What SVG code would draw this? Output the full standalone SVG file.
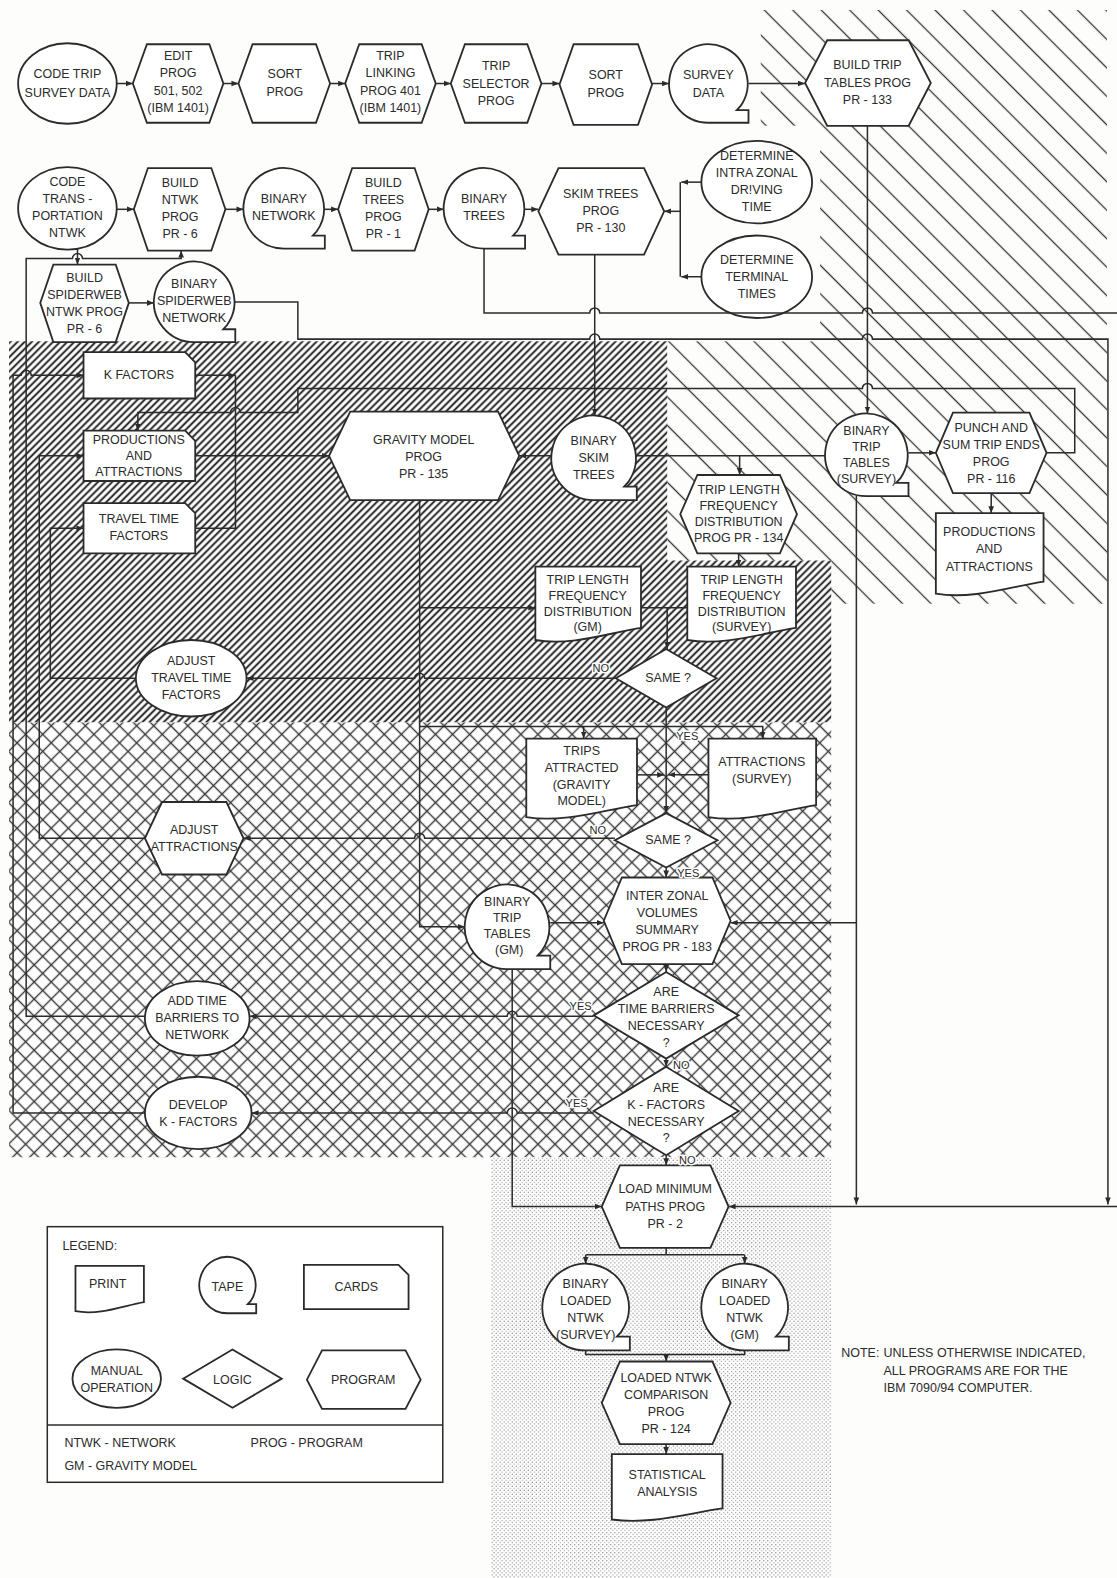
<svg xmlns="http://www.w3.org/2000/svg" width="1117" height="1578" viewBox="0 0 1117 1578">
<defs>
<style>
.n{fill:#fff;stroke:#2b2b2b;stroke-width:1.8}
.c{fill:none;stroke:#2b2b2b;stroke-width:1.5}
.a{marker-end:url(#ah)}
text{font-family:"Liberation Sans",Arial,sans-serif;font-size:12.4px;fill:#2b2b2b;text-anchor:middle;dominant-baseline:central}
.lbl{font-size:11px;stroke:#fff;stroke-width:3;paint-order:stroke;stroke-linejoin:round}
.st{text-anchor:start}
</style>
<marker id="ah" viewBox="0 0 10 10" refX="10" refY="5" markerWidth="7" markerHeight="7" markerUnits="userSpaceOnUse" orient="auto"><path d="M0,1 L10,5 L0,9 z" fill="#2b2b2b"/></marker>
<pattern id="dense" width="5" height="5" patternUnits="userSpaceOnUse" patternTransform="rotate(-45)"><rect width="5" height="5" fill="#fff"/><line x1="0" y1="2.5" x2="5" y2="2.5" stroke="#333" stroke-width="2.1"/></pattern>
<pattern id="sparse" width="20" height="20" patternUnits="userSpaceOnUse" patternTransform="rotate(45)"><line x1="0" y1="10" x2="20" y2="10" stroke="#333" stroke-width="1.3"/></pattern>
<pattern id="cross" width="12" height="12" patternUnits="userSpaceOnUse" patternTransform="rotate(45)"><rect width="12" height="12" fill="#fff"/><line x1="0" y1="6" x2="12" y2="6" stroke="#3a3a3a" stroke-width="1.4"/><line x1="6" y1="0" x2="6" y2="12" stroke="#3a3a3a" stroke-width="1.4"/></pattern>
<pattern id="dots" width="4" height="4" patternUnits="userSpaceOnUse"><rect width="4" height="4" fill="#fff"/><circle cx="1" cy="1" r="0.6" fill="#777"/><circle cx="3" cy="3" r="0.6" fill="#777"/></pattern>
</defs>
<rect width="1117" height="1578" fill="#fdfdfc"/>
<g transform="scale(1.0063)">
<g id="regions">
<path d="M756,10 H1100 V600 H826 V557 H663 V339 H815 V125 H756 Z" fill="url(#sparse)"/>
<path d="M9,339 H663 V557 H826 V718 H9 Z" fill="url(#dense)"/>
<path d="M9,718 H826 V1150 H9 Z" fill="url(#cross)"/>
<path d="M488,1150 H826 V1568 H488 Z" fill="url(#dots)"/>
</g>

<g id="nodes">
<g id="code-trip"><ellipse class="n" cx="67" cy="83" rx="49" ry="40"/><text><tspan x="67" y="74">CODE TRIP</tspan><tspan x="67" y="92">SURVEY DATA</tspan></text></g>
<g id="edit-prog"><polygon class="n" points="146,44 208,44 222,83 208,122 146,122 132,83"/><text><tspan x="177" y="56">EDIT</tspan><tspan x="177" y="73">PROG</tspan><tspan x="177" y="90">501, 502</tspan><tspan x="177" y="107">(IBM 1401)</tspan></text></g>
<g id="sort-prog-1"><polygon class="n" points="251,44 314,44 328,83 314,122 251,122 237,83"/><text><tspan x="283" y="74">SORT</tspan><tspan x="283" y="91">PROG</tspan></text></g>
<g id="trip-linking"><polygon class="n" points="357,44 419,44 433,83 419,122 357,122 343,83"/><text><tspan x="388" y="56">TRIP</tspan><tspan x="388" y="73">LINKING</tspan><tspan x="388" y="90">PROG 401</tspan><tspan x="388" y="107">(IBM 1401)</tspan></text></g>
<g id="trip-selector"><polygon class="n" points="462,44 524,44 538,83 524,122 462,122 448,83"/><text><tspan x="493" y="66">TRIP</tspan><tspan x="493" y="83">SELECTOR</tspan><tspan x="493" y="100">PROG</tspan></text></g>
<g id="sort-prog-2"><polygon class="n" points="570,44 634,44 648,84 634,124 570,124 556,84"/><text><tspan x="602" y="75">SORT</tspan><tspan x="602" y="92">PROG</tspan></text></g>
<g id="survey-data"><path class="n" d="M704,122 A39,39 0 1 1 736,105.2 L732.1,109.5 L743.8,109.5 L743.8,122 Z"/><text><tspan x="704" y="75">SURVEY</tspan><tspan x="704" y="92">DATA</tspan></text></g>
<g id="build-trip-tables"><polygon class="n" points="822,40 903,40 925,82.5 903,125 822,125 800,82.5"/><text><tspan x="862" y="65">BUILD TRIP</tspan><tspan x="862" y="82">TABLES PROG</tspan><tspan x="862" y="99">PR - 133</tspan></text></g>

<g id="code-trans"><ellipse class="n" cx="67" cy="207" rx="49" ry="41"/><text><tspan x="67" y="181">CODE</tspan><tspan x="67" y="198">TRANS -</tspan><tspan x="67" y="215">PORTATION</tspan><tspan x="67" y="232">NTWK</tspan></text></g>
<g id="build-ntwk"><polygon class="n" points="147,167 210,167 224,208 210,249 147,249 133,208"/><text><tspan x="179" y="182">BUILD</tspan><tspan x="179" y="199">NTWK</tspan><tspan x="179" y="216">PROG</tspan><tspan x="179" y="233">PR - 6</tspan></text></g>
<g id="binary-network"><path class="n" d="M282,247 A40,40 0 1 1 314.8,229.8 L310.8,234.2 L322.8,234.2 L322.8,247 Z"/><text><tspan x="282" y="198">BINARY</tspan><tspan x="282" y="215">NETWORK</tspan></text></g>
<g id="build-trees"><polygon class="n" points="350,167 412,167 426,208 412,249 350,249 336,208"/><text><tspan x="381" y="182">BUILD</tspan><tspan x="381" y="199">TREES</tspan><tspan x="381" y="216">PROG</tspan><tspan x="381" y="233">PR - 1</tspan></text></g>
<g id="binary-trees"><path class="n" d="M481,247 A40,40 0 1 1 513.8,229.8 L509.8,234.2 L521.8,234.2 L521.8,247 Z"/><text><tspan x="481" y="198">BINARY</tspan><tspan x="481" y="215">TREES</tspan></text></g>
<g id="skim-trees"><polygon class="n" points="555,167 640,167 660,210 640,253 555,253 535,210"/><text><tspan x="597" y="193">SKIM TREES</tspan><tspan x="597" y="210">PROG</tspan><tspan x="597" y="227">PR - 130</tspan></text></g>
<g id="det-intra"><ellipse class="n" cx="752" cy="181" rx="55" ry="41"/><text><tspan x="752" y="155">DETERMINE</tspan><tspan x="752" y="172">INTRA ZONAL</tspan><tspan x="752" y="189">DR!VING</tspan><tspan x="752" y="206">TIME</tspan></text></g>
<g id="det-terminal"><ellipse class="n" cx="752" cy="275" rx="55" ry="41"/><text><tspan x="752" y="258">DETERMINE</tspan><tspan x="752" y="275">TERMINAL</tspan><tspan x="752" y="292">TIMES</tspan></text></g>

<g id="build-spider"><polygon class="n" points="53,263 115,263 128,301 115,340 53,340 40,301"/><text><tspan x="84" y="276">BUILD</tspan><tspan x="84" y="293">SPIDERWEB</tspan><tspan x="84" y="310">NTWK PROG</tspan><tspan x="84" y="327">PR - 6</tspan></text></g>
<g id="binary-spider"><path class="n" d="M193,340 A40,40 0 1 1 225.8,322.8 L221.8,327.2 L233.8,327.2 L233.8,340 Z"/><text><tspan x="193" y="282">BINARY</tspan><tspan x="193" y="299">SPIDERWEB</tspan><tspan x="193" y="316">NETWORK</tspan></text></g>

<g id="k-factors"><path class="n" d="M83,350 H184 L194,360 V396 H83 Z"/><text x="138" y="373">K FACTORS</text></g>
<g id="prod-attr-cards"><path class="n" d="M83,428 H184 L194,438 V478 H83 Z"/><text><tspan x="138" y="437">PRODUCTIONS</tspan><tspan x="138" y="453">AND</tspan><tspan x="138" y="469">ATTRACTIONS</tspan></text></g>
<g id="travel-time"><path class="n" d="M83,500 H184 L194,510 V550 H83 Z"/><text><tspan x="138" y="516">TRAVEL TIME</tspan><tspan x="138" y="533">FACTORS</tspan></text></g>
<g id="gravity"><polygon class="n" points="348,409 495,409 516,453 495,497 348,497 327,453"/><text><tspan x="421" y="437">GRAVITY MODEL</tspan><tspan x="421" y="454">PROG</tspan><tspan x="421" y="471">PR - 135</tspan></text></g>
<g id="binary-skim"><path class="n" d="M590,497 A42,42 0 1 1 624.4,478.9 L620.2,483.6 L632.8,483.6 L632.8,497 Z"/><text><tspan x="590" y="438">BINARY</tspan><tspan x="590" y="455">SKIM</tspan><tspan x="590" y="472">TREES</tspan></text></g>
<g id="binary-trip-survey"><path class="n" d="M861,493 A41,41 0 1 1 894.6,475.4 L890.5,479.9 L902.8,479.9 L902.8,493 Z"/><text><tspan x="861" y="428">BINARY</tspan><tspan x="861" y="444">TRIP</tspan><tspan x="861" y="460">TABLES</tspan><tspan x="861" y="476">(SURVEY)</tspan></text></g>
<g id="punch"><polygon class="n" points="947,410 1023,410 1040,450 1023,490 947,490 930,450"/><text><tspan x="985" y="425">PUNCH AND</tspan><tspan x="985" y="442">SUM TRIP ENDS</tspan><tspan x="985" y="459">PROG</tspan><tspan x="985" y="476">PR - 116</tspan></text></g>
<g id="prod-attr-print"><path class="n" d="M930,510 H1037 V578 C1004.9,582.8 967.45,596 930,590 Z"/><text><tspan x="983" y="529">PRODUCTIONS</tspan><tspan x="983" y="546">AND</tspan><tspan x="983" y="563">ATTRACTIONS</tspan></text></g>
<g id="tlfd-prog"><polygon class="n" points="693,472 775,472 792,511 775,550 693,550 676,511"/><text><tspan x="734" y="487">TRIP LENGTH</tspan><tspan x="734" y="503">FREQUENCY</tspan><tspan x="734" y="519">DISTRIBUTION</tspan><tspan x="734" y="535">PROG PR - 134</tspan></text></g>
<g id="tlfd-gm"><path class="n" d="M532,563 H637 V624 C605.5,628.8 568.75,642 532,636 Z"/><text><tspan x="584" y="576">TRIP LENGTH</tspan><tspan x="584" y="592">FREQUENCY</tspan><tspan x="584" y="608">DISTRIBUTION</tspan><tspan x="584" y="623">(GM)</tspan></text></g>
<g id="tlfd-survey"><path class="n" d="M683,563 H791 V624 C758.6,628.8 720.8,642 683,636 Z"/><text><tspan x="737" y="576">TRIP LENGTH</tspan><tspan x="737" y="592">FREQUENCY</tspan><tspan x="737" y="608">DISTRIBUTION</tspan><tspan x="737" y="623">(SURVEY)</tspan></text></g>
<g id="adjust-travel"><ellipse class="n" cx="190" cy="674" rx="55" ry="38"/><text><tspan x="190" y="657">ADJUST</tspan><tspan x="190" y="674">TRAVEL TIME</tspan><tspan x="190" y="691">FACTORS</tspan></text></g>
<g id="same-1"><polygon class="n" points="662,645 712,674 662,703 612,674"/><text x="664" y="674">SAME ?</text></g>
<g id="trips-attracted"><path class="n" d="M523,734 H633 V800 C600,804.8 561.5,818 523,812 Z"/><text><tspan x="578" y="746">TRIPS</tspan><tspan x="578" y="763">ATTRACTED</tspan><tspan x="578" y="780">(GRAVITY</tspan><tspan x="578" y="796">MODEL)</tspan></text></g>
<g id="attr-survey"><path class="n" d="M704,734 H811 V800 C778.9,804.8 741.45,818 704,812 Z"/><text><tspan x="757" y="757">ATTRACTIONS</tspan><tspan x="757" y="774">(SURVEY)</tspan></text></g>
<g id="adjust-attr"><polygon class="n" points="161,797 225,797 242,833 225,869 161,869 144,833"/><text><tspan x="193" y="825">ADJUST</tspan><tspan x="193" y="842">ATTRACTIONS</tspan></text></g>
<g id="same-2"><polygon class="n" points="662,808 713,835 662,862 611,835"/><text x="664" y="835">SAME ?</text></g>
<g id="binary-trip-gm"><path class="n" d="M504,963 A42,42 0 1 1 538.4,944.9 L534.2,949.6 L546.8,949.6 L546.8,963 Z"/><text><tspan x="504" y="896">BINARY</tspan><tspan x="504" y="912">TRIP</tspan><tspan x="504" y="928">TABLES</tspan><tspan x="506" y="944">(GM)</tspan></text></g>
<g id="inter-zonal"><polygon class="n" points="618,872 708,872 726,915 708,958 618,958 600,915"/><text><tspan x="663" y="890">INTER ZONAL</tspan><tspan x="663" y="907">VOLUMES</tspan><tspan x="663" y="924">SUMMARY</tspan><tspan x="663" y="941">PROG PR - 183</tspan></text></g>
<g id="time-barriers-q"><polygon class="n" points="662,966 734,1009 662,1052 590,1009"/><text><tspan x="662" y="986">ARE</tspan><tspan x="662" y="1003">TIME BARRIERS</tspan><tspan x="662" y="1020">NECESSARY</tspan><tspan x="662" y="1036">?</tspan></text></g>
<g id="add-time-barriers"><ellipse class="n" cx="196" cy="1012" rx="52" ry="37"/><text><tspan x="196" y="995">ADD TIME</tspan><tspan x="196" y="1012">BARRIERS TO</tspan><tspan x="196" y="1029">NETWORK</tspan></text></g>
<g id="k-factors-q"><polygon class="n" points="662,1060 734,1104 662,1148 590,1104"/><text><tspan x="662" y="1081">ARE</tspan><tspan x="662" y="1098">K - FACTORS</tspan><tspan x="662" y="1115">NECESSARY</tspan><tspan x="662" y="1131">?</tspan></text></g>
<g id="develop-k"><ellipse class="n" cx="197" cy="1106" rx="53" ry="36"/><text><tspan x="197" y="1098">DEVELOP</tspan><tspan x="197" y="1115">K - FACTORS</tspan></text></g>
<g id="load-min"><polygon class="n" points="616,1158 706,1158 724,1199 706,1240 616,1240 598,1199"/><text><tspan x="661" y="1182">LOAD MINIMUM</tspan><tspan x="661" y="1199">PATHS PROG</tspan><tspan x="661" y="1216">PR - 2</tspan></text></g>
<g id="loaded-survey"><path class="n" d="M582,1342 A43,43 0 1 1 617.3,1323.5 L613,1328.2 L625.9,1328.2 L625.9,1342 Z"/><text><tspan x="582" y="1276">BINARY</tspan><tspan x="582" y="1293">LOADED</tspan><tspan x="582" y="1310">NTWK</tspan><tspan x="582" y="1327">(SURVEY)</tspan></text></g>
<g id="loaded-gm"><path class="n" d="M740,1342 A43,43 0 1 1 775.3,1323.5 L771,1328.2 L783.9,1328.2 L783.9,1342 Z"/><text><tspan x="740" y="1276">BINARY</tspan><tspan x="740" y="1293">LOADED</tspan><tspan x="740" y="1310">NTWK</tspan><tspan x="740" y="1327">(GM)</tspan></text></g>
<g id="comparison"><polygon class="n" points="616,1353 708,1353 726,1394 708,1435 616,1435 598,1394"/><text><tspan x="662" y="1369">LOADED NTWK</tspan><tspan x="662" y="1386">COMPARISON</tspan><tspan x="662" y="1403">PROG</tspan><tspan x="662" y="1420">PR - 124</tspan></text></g>
<g id="statistical"><path class="n" d="M608,1445 H718 V1499 C685,1503.4 646.5,1515.5 608,1510 Z"/><text><tspan x="663" y="1466">STATISTICAL</tspan><tspan x="663" y="1483">ANALYSIS</tspan></text></g>
</g>

<g id="connectors">
<path class="c a" d="M116,83 H132"/>
<path class="c a" d="M222,83 H237"/>
<path class="c a" d="M328,83 H343"/>
<path class="c a" d="M433,83 H448"/>
<path class="c a" d="M538,83 H556"/>
<path class="c a" d="M648,83 H665"/>
<path class="c a" d="M743.8,83 H800"/>
<path class="c a" d="M116,208 H133"/>
<path class="c a" d="M224,208 H242"/>
<path class="c a" d="M322,208 H336"/>
<path class="c a" d="M426,208 H441"/>
<path class="c a" d="M521,208 H535"/>
<path class="c a" d="M697,181 H677"/>
<path class="c a" d="M697,275 H677"/>
<path class="c" d="M676,181 V275"/>
<path class="c a" d="M676,210 H660"/>
<path class="c a" d="M77,247 V263"/>
<path class="c a" d="M128,301 H153"/>
<path class="c a" d="M144,1010 H26 V257 H72 a5,5 0 0 1 10,0 H180 V249"/>
<path class="c a" d="M144,833 H39 V453 H83"/>
<path class="c a" d="M135,674 H50 V525 H83"/>
<path class="c a" d="M144,1106 H13 V373 H21 a5,5 0 0 1 10,0 H83"/>
<path class="c a" d="M194,373 H234"/>
<path class="c" d="M234,373 V525 H194"/>
<path class="c a" d="M194,453 H327"/>
<path class="c a" d="M1040,450 H1068 V386 H867 a5,5 0 0 0 -10,0 H296 V410 H239 a5,5 0 0 0 -10,0 H137 V428"/>
<path class="c a" d="M591,253 V413"/>
<path class="c" d="M481,247 V311 H586 a5,5 0 0 1 10,0 H857 a5,5 0 0 1 10,0 H1116 V1199"/>
<path class="c a" d="M233,300 H296 V337 H586 a5,5 0 0 1 10,0 H857 a5,5 0 0 1 10,0 H1101 V1197"/>
<path class="c a" d="M1116,1199 H724"/>
<path class="c a" d="M862,125 V411"/>
<path class="c a" d="M851,493 V1197"/>
<path class="c a" d="M902.8,450 H930"/>
<path class="c a" d="M985,490 V510"/>
<path class="c a" d="M548,453 H516"/>
<path class="c" d="M632,453 H820"/>
<path class="c a" d="M735,453 V472"/>
<path class="c a" d="M734,550 V563"/>
<path class="c" d="M637,604 H683"/>
<path class="c a" d="M663,604 V645"/>
<path class="c a" d="M417,497 V921 H462"/>
<path class="c a" d="M417,604 H532"/>
<path class="c a" d="M417,722 H758 V734"/>
<path class="c a" d="M580,722 V734"/>
<path class="c a" d="M612,674 H422 a5,5 0 0 0 -10,0 H245"/>
<path class="c a" d="M662,703 V808"/>
<path class="c a" d="M633,770 H660"/>
<path class="c a" d="M704,770 H664"/>
<path class="c a" d="M611,833 H422 a5,5 0 0 0 -10,0 H242"/>
<path class="c a" d="M662,862 V872"/>
<path class="c a" d="M546.8,917 H600"/>
<path class="c a" d="M851,917 H726"/>
<path class="c a" d="M662,958 V966"/>
<path class="c a" d="M590,1010 H514 a5,5 0 0 0 -10,0 H248"/>
<path class="c a" d="M662,1052 V1060"/>
<path class="c a" d="M590,1106 H514 a5,5 0 0 0 -10,0 H250"/>
<path class="c a" d="M662,1148 V1158"/>
<path class="c a" d="M509,963 V1199 H598"/>
<path class="c" d="M662,1240 V1247 M582,1247 H740"/>
<path class="c a" d="M582,1247 V1256"/>
<path class="c a" d="M740,1247 V1256"/>
<path class="c" d="M582,1342 V1346 H740 V1342"/>
<path class="c a" d="M662,1346 V1353"/>
<path class="c a" d="M662,1435 V1445"/>
<text class="lbl" x="597" y="664">NO</text>
<text class="lbl" x="683" y="731">YES</text>
<text class="lbl" x="594" y="825">NO</text>
<text class="lbl" x="684" y="868">YES</text>
<text class="lbl" x="577" y="1000">YES</text>
<text class="lbl" x="677" y="1058">NO</text>
<text class="lbl" x="573" y="1096">YES</text>
<text class="lbl" x="683" y="1153">NO</text>
</g>

<g id="legend">
<rect x="47" y="1219" width="393" height="254" fill="#fff" stroke="#2b2b2b" stroke-width="1.5"/>
<line x1="47" y1="1416" x2="440" y2="1416" stroke="#2b2b2b" stroke-width="1.5"/>
<text class="st" x="62" y="1238">LEGEND:</text>
<path class="n" d="M75,1258 H143 V1294 C122.6,1297.6 98.8,1307.5 75,1303 Z"/><text x="107" y="1276">PRINT</text>
<path class="n" d="M226,1305 A28,28 0 1 1 249,1293 L246.2,1296 L254.6,1296 L254.6,1305 Z"/><text x="226" y="1279">TAPE</text>
<path class="n" d="M302,1257 H396 L406,1267 V1301 H302 Z"/><text x="354" y="1279">CARDS</text>
<ellipse class="n" cx="116" cy="1370" rx="44" ry="29"/><text><tspan x="116" y="1362">MANUAL</tspan><tspan x="116" y="1379">OPERATION</tspan></text>
<polygon class="n" points="231,1341 280,1370 231,1399 182,1370"/><text x="231" y="1371">LOGIC</text>
<polygon class="n" points="320,1342 403,1342 418,1371 403,1400 320,1400 305,1371"/><text x="361" y="1371">PROGRAM</text>
<text class="st" x="64" y="1434">NTWK  -  NETWORK</text>
<text class="st" x="249" y="1434">PROG  -  PROGRAM</text>
<text class="st" x="64" y="1457">GM  -  GRAVITY MODEL</text>
</g>

<g id="note">
<text class="st" x="836" y="1345">NOTE:</text>
<text class="st"><tspan x="878" y="1345">UNLESS OTHERWISE INDICATED,</tspan><tspan x="878" y="1362">ALL PROGRAMS ARE FOR THE</tspan><tspan x="878" y="1379">IBM 7090/94 COMPUTER.</tspan></text>
</g>
</g>
</svg>
